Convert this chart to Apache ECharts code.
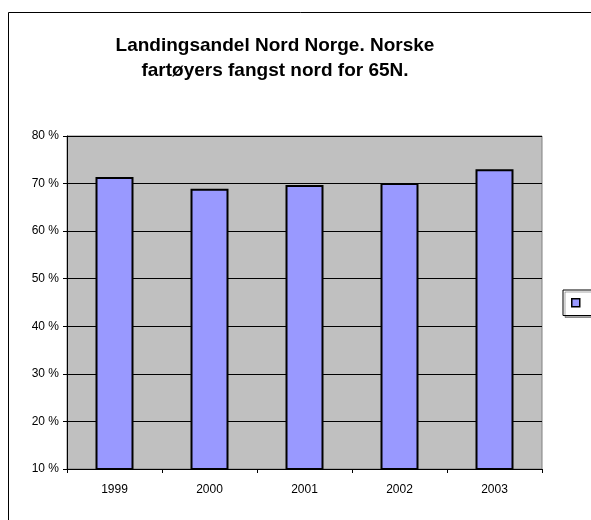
<!DOCTYPE html>
<html>
<head>
<meta charset="utf-8">
<script src="https://cdn.jsdelivr.net/npm/echarts@6/dist/echarts.min.js"></script>
<style>
    html, body { margin: 0; padding: 0; background: #fff; }
    #chart { width: 591px; height: 520px; }
</style>
</head>
<body>
<div id="chart"></div>
<script>
    var years = ['1999', '2000', '2001', '2002', '2003']
    var andel = [71.4, 68.9, 69.7, 70.1, 73.0]
    var yTicks = [10, 20, 30, 40, 50, 60, 70, 80]

    var chart = echarts.init(document.getElementById('chart'))
    var option = {
        animation: false,
        textStyle: { fontFamily: 'Liberation Sans, Arial, sans-serif' },
        title: {
            text: 'Landingsandel Nord Norge. Norske\nfartøyers fangst nord for 65N.',
            left: 270,
            top: 28,
            textAlign: 'center',
            textStyle: {
                fontSize: 19,
                fontWeight: 'bold',
                color: '#000',
                lineHeight: 25
            }
        },
        graphic: [{
            type: 'rect',
            shape: { x: 8.5, y: 12.5, width: 600, height: 600 },
            style: { fill: 'none', stroke: '#000', lineWidth: 1 },
            z: -1
        }],
        legend: {
            data: [' '],
            left: 563,
            top: 290,
            itemWidth: 8,
            itemHeight: 8,
            icon: 'rect',
            padding: [8, 8, 8, 8],
            borderColor: '#000',
            borderWidth: 1,
            backgroundColor: '#fff',
            shadowColor: 'rgba(0,0,0,0.35)',
            shadowOffsetX: 2,
            shadowOffsetY: 2,
            shadowBlur: 0,
            itemGap: 0,
            textStyle: { fontSize: 1 },
            itemStyle: { borderColor: '#000', borderWidth: 1.5 }
        },
        grid: {
            left: 67,
            top: 136,
            right: 49,
            bottom: 51,
            show: true,
            backgroundColor: '#c0c0c0',
            borderColor: '#808080',
            borderWidth: 1
        },
        xAxis: {
            type: 'category',
            data: years,
            axisLine: { lineStyle: { color: '#000', width: 1 } },
            axisTick: { show: true, length: 4, lineStyle: { color: '#000' } },
            axisLabel: { color: '#000', fontSize: 12, margin: 15 }
        },
        yAxis: {
            type: 'value',
            min: yTicks[0],
            max: yTicks[yTicks.length - 1],
            interval: 10,
            axisLine: { show: true, lineStyle: { color: '#000', width: 1 } },
            axisTick: { show: true, length: 4, lineStyle: { color: '#000' } },
            axisLabel: {
                color: '#000',
                fontSize: 12,
                margin: 8,
                formatter: function (v) { return v + ' %' }
            },
            splitLine: { show: true, lineStyle: { color: '#000', width: 1 } }
        },
        series: [{
            name: ' ',
            type: 'bar',
            data: andel,
            barWidth: '40%',
            itemStyle: {
                color: '#9999ff',
                borderColor: '#000',
                borderWidth: 2
            }
        }]
    }
    chart.setOption(option)
</script>
</body>
</html>
